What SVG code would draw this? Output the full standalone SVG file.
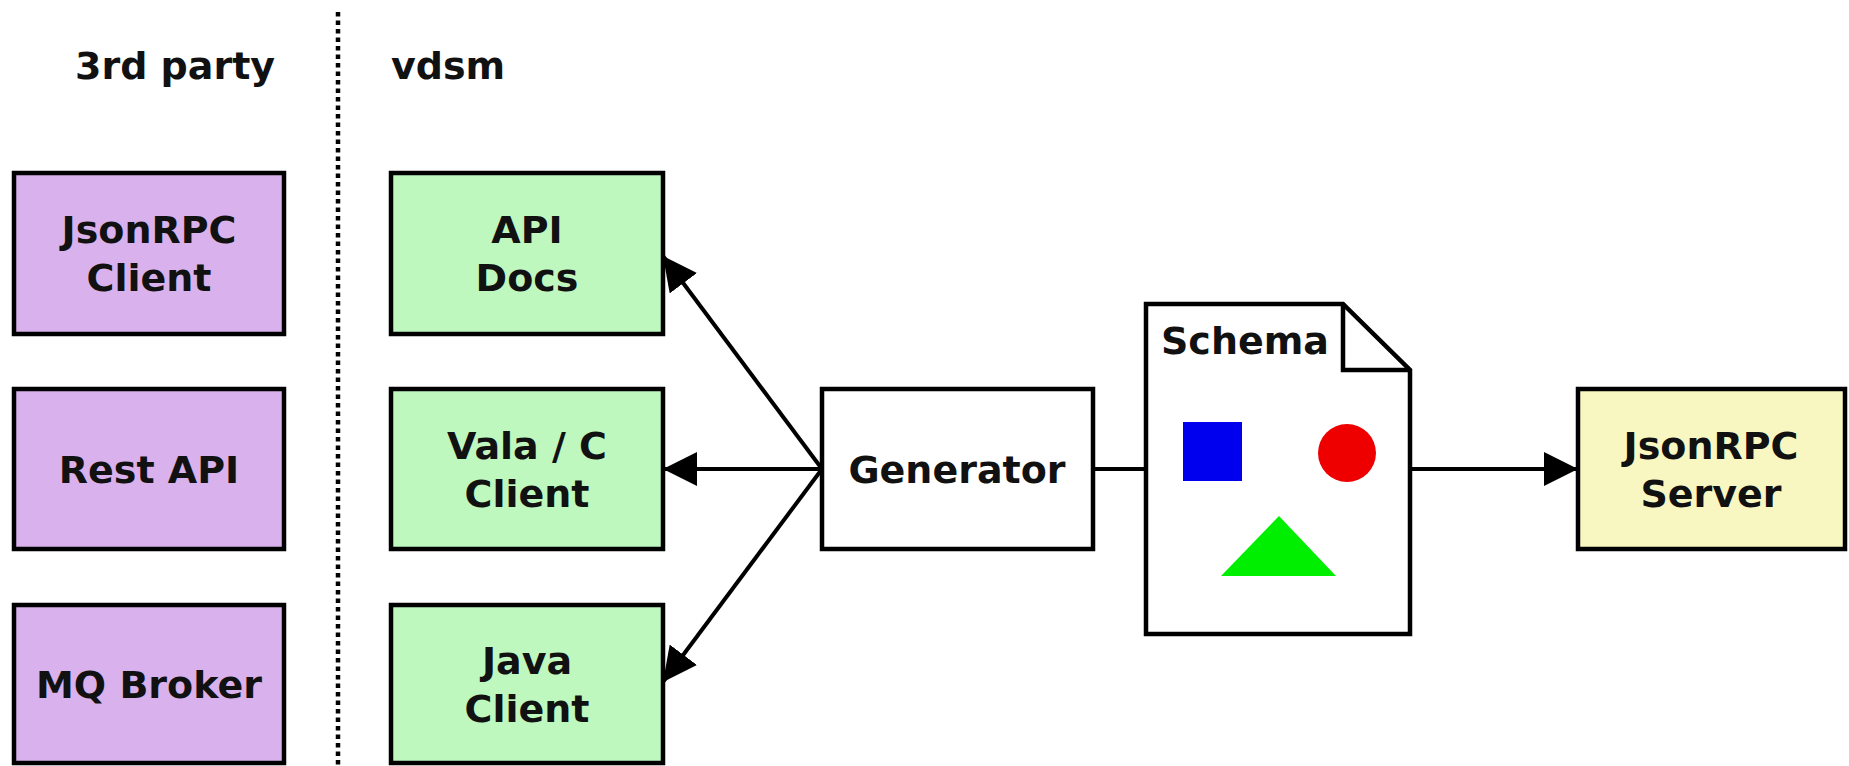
<svg xmlns="http://www.w3.org/2000/svg" width="1849" height="766" viewBox="0 0 1849 766">
<style>
  text { font-family: "DejaVu Sans", "Liberation Sans", sans-serif; font-weight: bold; font-size: 38px; fill: #111; }
  .c { text-anchor: middle; }
  .box { stroke: #000; stroke-width: 4.5; }
  .p { fill: #d9b1ec; }
  .g { fill: #bff8bf; }
  .y { fill: #f9f7c1; }
  .w { fill: #fff; }
  .conn { stroke: #000; stroke-width: 4; fill: none; }
</style>
<defs>
  <marker id="arr" viewBox="0 0 10 10" refX="10" refY="5" markerWidth="8.5" markerHeight="8.5" markerUnits="strokeWidth" orient="auto">
    <path d="M0,0 L10,5 L0,10 Z" fill="#000"/>
  </marker>
</defs>
<rect width="1849" height="766" fill="#fff"/>
<line x1="338" y1="12" x2="338" y2="766" stroke="#000" stroke-width="4.5" stroke-dasharray="4.5,4"/>
<text x="75" y="79">3rd party</text>
<text x="391" y="79">vdsm</text>

<g id="jsonrpc-client"><rect class="box p" x="14" y="173" width="270" height="161"/><text class="c" x="149" y="243">JsonRPC</text><text class="c" x="149" y="291">Client</text></g>
<g id="rest-api"><rect class="box p" x="14" y="389" width="270" height="160"/><text class="c" x="149" y="483">Rest API</text></g>
<g id="mq-broker"><rect class="box p" x="14" y="605" width="270" height="158"/><text class="c" x="149" y="698">MQ Broker</text></g>

<g id="api-docs"><rect class="box g" x="391" y="173" width="272" height="161"/><text class="c" x="527" y="243">API</text><text class="c" x="527" y="291">Docs</text></g>
<g id="vala-client"><rect class="box g" x="391" y="389" width="272" height="160"/><text class="c" x="527" y="459">Vala / C</text><text class="c" x="527" y="507">Client</text></g>
<g id="java-client"><rect class="box g" x="391" y="605" width="272" height="158"/><text class="c" x="527" y="674">Java</text><text class="c" x="527" y="722">Client</text></g>

<g id="generator"><rect class="box w" x="822" y="389" width="271" height="160"/><text class="c" x="957" y="483">Generator</text></g>

<g id="schema">
  <path class="box w" d="M1146,304 H1343 L1410,370 V634 H1146 Z"/>
  <path d="M1343,304 V370 H1410" fill="none" stroke="#000" stroke-width="4.5"/>
  <text x="1161" y="354">Schema</text>
  <rect x="1183" y="422" width="59" height="59" fill="#0000ee"/>
  <circle cx="1347" cy="453" r="29" fill="#ee0000"/>
  <polygon points="1279,516 1336,576 1221,576" fill="#00ee00"/>
</g>

<g id="jsonrpc-server"><rect class="box y" x="1578" y="389" width="267" height="160"/><text class="c" x="1711" y="459">JsonRPC</text><text class="c" x="1711" y="507">Server</text></g>

<g id="connectors">
  <line class="conn" x1="822" y1="469" x2="663" y2="256" marker-end="url(#arr)"/>
  <line class="conn" x1="822" y1="469" x2="663" y2="469" marker-end="url(#arr)"/>
  <line class="conn" x1="822" y1="469" x2="663" y2="682" marker-end="url(#arr)"/>
  <line class="conn" x1="1093" y1="469" x2="1146" y2="469"/>
  <line class="conn" x1="1410" y1="469" x2="1578" y2="469" marker-end="url(#arr)"/>
</g>
</svg>
